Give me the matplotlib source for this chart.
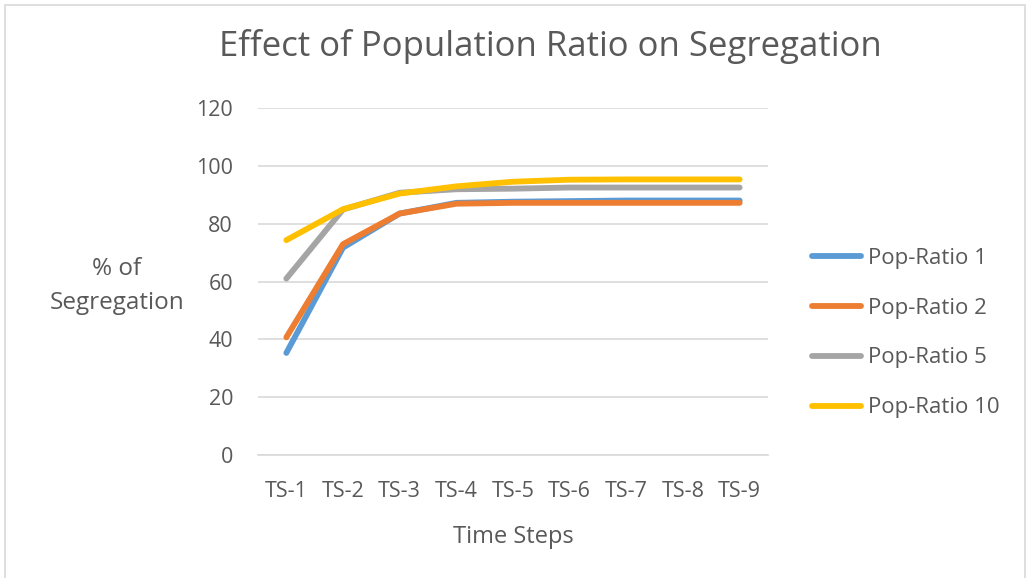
import matplotlib
matplotlib.use("Agg")
import matplotlib.pyplot as plt
from matplotlib.patches import Rectangle

# segregation % per time step for each population ratio
steps = ["TS-1", "TS-2", "TS-3", "TS-4", "TS-5", "TS-6", "TS-7", "TS-8", "TS-9"]
ratio_1 = [35.3, 71.7, 83.5, 87.2, 87.6, 87.8, 88.0, 88.0, 88.0]
ratio_2 = [40.7, 72.9, 83.5, 86.9, 87.2, 87.2, 87.2, 87.2, 87.2]
ratio_5 = [61.0, 84.9, 90.7, 91.9, 92.1, 92.5, 92.5, 92.5, 92.5]
ratio_10 = [74.3, 85.0, 90.4, 92.9, 94.5, 95.2, 95.3, 95.3, 95.3]
y_ticks = [0, 20, 40, 60, 80, 100, 120]

plt.rcParams['font.family'] = ['Open Sans', 'DejaVu Sans']
txt = '#595959'

fig = plt.figure(figsize=(10.33, 5.78), dpi=100)
fig.patches.append(Rectangle((5/1033, -0.1), 1020/1033, 1.1 - 5/578, transform=fig.transFigure,
                             fill=False, edgecolor='#D9D9D9', linewidth=1.2))
ax = fig.add_axes([258/1033, 1 - 455/578, 510/1033, 347/578])

x = list(range(len(steps)))
series = [(ratio_1, '#5B9BD5', 'Pop-Ratio 1'),
          (ratio_2, '#ED7D31', 'Pop-Ratio 2'),
          (ratio_5, '#A5A5A5', 'Pop-Ratio 5'),
          (ratio_10, '#FFC000', 'Pop-Ratio 10')]
lines = []
for vals, col, lab in series:
    ln, = ax.plot(x, vals, color=col, linewidth=4.2, solid_capstyle='round', label=lab)
    lines.append(ln)

ax.set_xlim(-0.5, len(steps) - 0.5)
ax.set_ylim(0, 120)
ax.set_yticks(y_ticks)
ax.set_xticks(x)
ax.set_xticklabels(steps)
ax.grid(axis='y', color='#D9D9D9', linewidth=1.2)
ax.set_axisbelow(True)
for s in ['top', 'right', 'left']:
    ax.spines[s].set_visible(False)
ax.spines['bottom'].set_color('#D9D9D9')
ax.spines['bottom'].set_linewidth(1.2)
ax.tick_params(length=0, labelsize=15.5, labelcolor=txt)
ax.tick_params(axis='y', pad=18)
ax.tick_params(axis='x', pad=19)

ax.set_xlabel("Time Steps", fontsize=17, color=txt, labelpad=16)
fig.text(117/1033, 1 - 286/578, "% of\nSegregation", fontsize=17.5, color=txt,
         ha='center', va='center', linespacing=1.6)
fig.text(550/1033, 1 - 47/578, "Effect of Population Ratio on Segregation",
         fontsize=25, color=txt, ha='center', va='center')

leg = fig.legend(handles=lines, loc='center left', bbox_to_anchor=(792/1033, 1 - 333/578),
                 frameon=False, fontsize=16, labelcolor=txt, handlelength=2.2,
                 handletextpad=0.3, labelspacing=1.3)

fig.savefig("out.png", dpi=100)
